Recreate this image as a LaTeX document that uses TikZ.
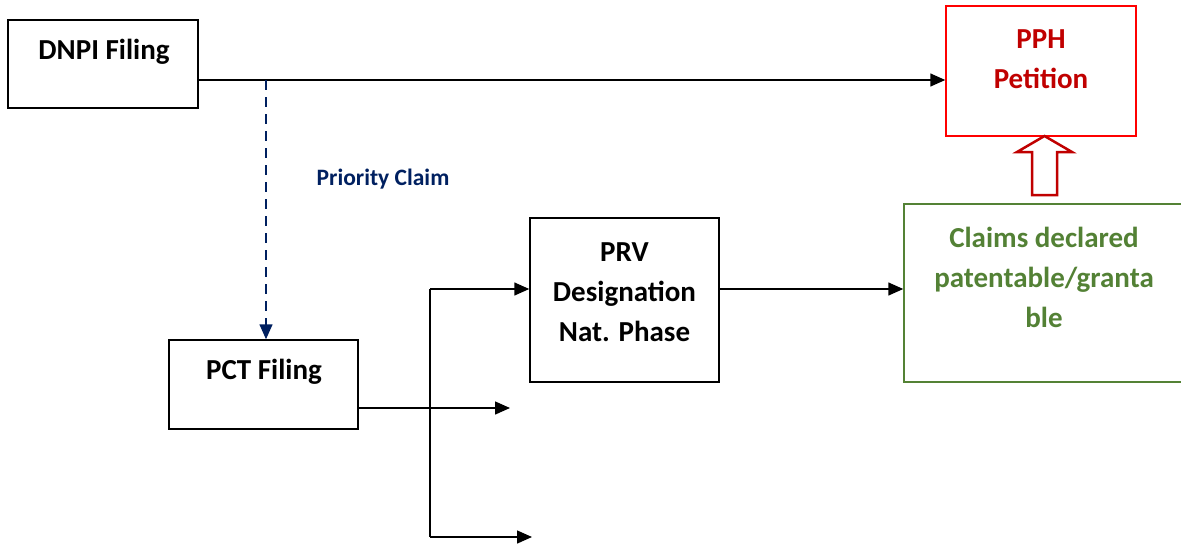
\documentclass[tikz,border=0pt]{standalone}
\usepackage{fontspec}
\setmainfont{Carlito}
\usetikzlibrary{arrows.meta}
\definecolor{navy}{HTML}{002060}
\definecolor{dred}{HTML}{C00000}
\definecolor{bred}{HTML}{FF0000}
\definecolor{gtext}{HTML}{538135}
\definecolor{gbox}{HTML}{548235}
\begin{document}
\begin{tikzpicture}[x=1pt,y=-1pt,
  box/.style={draw=black,line width=1.5pt,minimum width=190pt,inner sep=0pt},
  lbl/.style={font=\bfseries\fontsize{29}{40}\selectfont,align=center,inner sep=0pt},
  arr/.style={line width=1.5pt,-{Triangle[length=15pt,width=13pt]}},
]
\useasboundingbox (0,0) rectangle (1181,547);
% boxes
\node[box,minimum height=88pt] (dnpi) at (103,64) {};
\node[lbl] (dnpit) at (104,52) {DNPI Filing};
\node[box,draw=bred,minimum height=130pt] (pph) at (1041,71) {};
\node[lbl,text=dred] (ppht) at (1041,59) {PPH\\Petition};
\node[box,minimum width=189pt,minimum height=89pt] (pct) at (263.5,384.5) {};
\node[lbl] (pctt) at (264,372) {PCT Filing};
\node[box,minimum width=189pt,minimum height=164pt] (prv) at (624.5,300) {};
\node[lbl] (prvt) at (624.5,292) {PRV\\Designation\\Nat. Phase};
\node[box,draw=gbox,minimum width=281pt,minimum height=178pt] (clm) at (1044.5,293) {};
\node[lbl,text=gtext] (clmt) at (1044,277) {Claims declared\\patentable/granta\\ble};
% priority label
\node[font=\bfseries\fontsize{23.5}{26}\selectfont,text=navy,inner sep=0pt] (pri) at (383,179) {Priority Claim};
% coordinates
\coordinate (split) at (dnpi.east |- 0,80);
\coordinate (dtop) at (266,80);
\coordinate (bus1) at (430,289);
\coordinate (bus2) at (430,408);
\coordinate (bus3) at (430,537);
\coordinate (end2) at (510,408);
\coordinate (end3) at (532,537);
% connectors
\draw[arr] (split) -- (pph.west |- split);
\draw[navy,line width=1.5pt,dash pattern=on 10pt off 7pt,-{Triangle[length=15pt,width=13pt]}] (dtop) -- (dtop |- pct.north);
\draw[line width=1.5pt] (bus1) -- (bus3);
\draw[arr] (pct.east |- bus2) -- (end2);
\draw[arr] (bus1) -- (prv.west |- bus1);
\draw[arr] (bus3) -- (end3);
\draw[arr] (prv.east |- bus1) -- (clm.west |- bus1);
% hollow block arrow
\draw[dred,line width=2.5pt,line join=miter]
  (1032,195) -- (1032,152) -- (1017,152) -- (1044.5,136) -- (1072,152) -- (1057,152) -- (1057,195) -- cycle;
\end{tikzpicture}
\end{document}
